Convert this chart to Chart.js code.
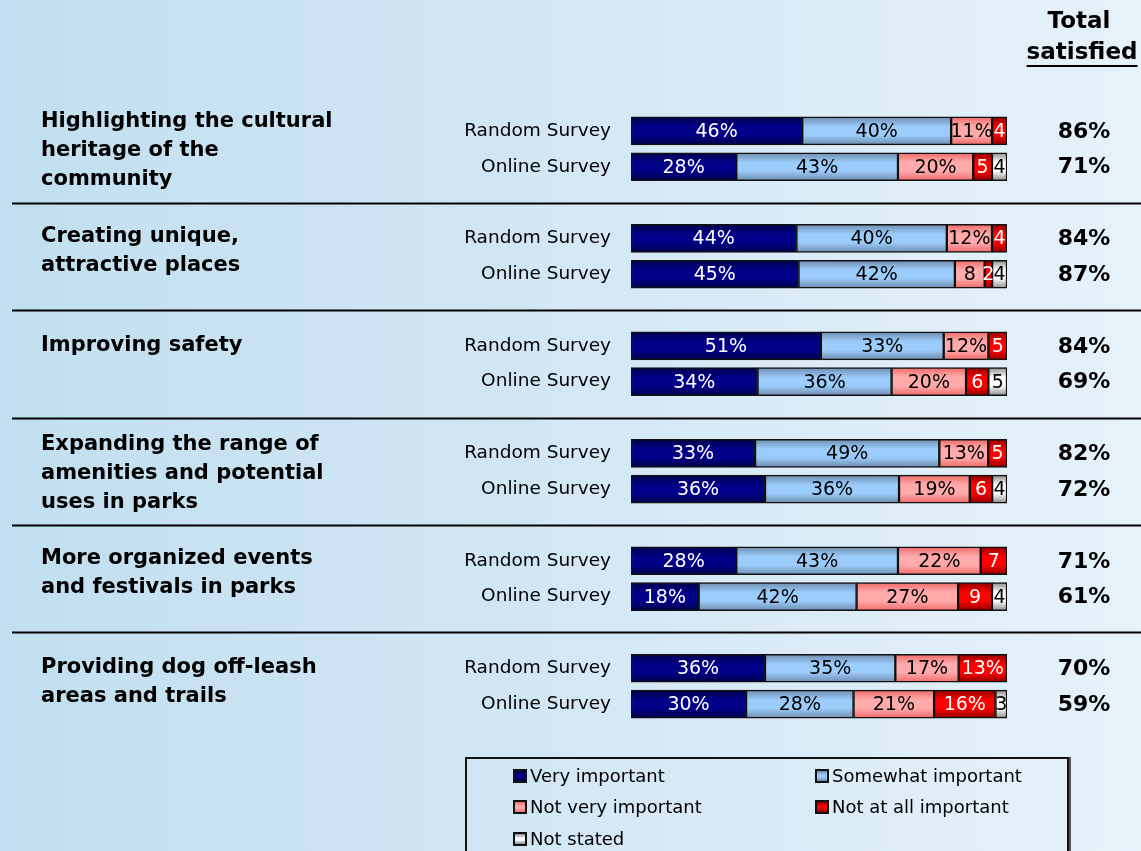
<!DOCTYPE html>
<html>
<head>
<meta charset="utf-8">
<script src="https://cdn.jsdelivr.net/npm/chart.js@4.4.1/dist/chart.umd.min.js"></script>
<style>
    body {
        margin: 0;
        width: 1141px;
        height: 851px;
        overflow: hidden;
        background: linear-gradient(90deg, #c1dff0 0%, #d3e7f5 50%, #e6f2fa 100%);
        font-family: "DejaVu Sans", Verdana, sans-serif;
    }
    #chartBox {
        position: absolute;
        left: 0;
        top: 0;
        width: 1141px;
        height: 851px;
    }
    #legendBox {
        position: absolute;
        left: 465px;
        top: 757px;
        width: 600px;
        height: 120px;
        border: 2px solid #111;
        box-shadow: 2px 0 0 #555;
    }
    .legend-item {
        position: absolute;
        display: flex;
        align-items: center;
        font-size: 18px;
        color: #000;
        white-space: nowrap;
    }
    .legend-color {
        width: 10px;
        height: 10px;
        border: 2px solid #111;
        margin-right: 3px;
    }
</style>
</head>
<body>
<div id="chartBox"><canvas id="barChart"></canvas></div>
<div id="legendBox"></div>

<script>
// topics, one entry per group (line breaks as in the picture)
const topics = [
    ['Highlighting the cultural', 'heritage of the', 'community'],
    ['Creating unique,', 'attractive places'],
    ['Improving safety'],
    ['Expanding the range of', 'amenities and potential', 'uses in parks'],
    ['More organized events', 'and festivals in parks'],
    ['Providing dog off-leash', 'areas and trails'],
];
const surveys = ['Random Survey', 'Online Survey'];

// values per row: Random, Online for each topic in order
const veryImportant     = [46, 28, 44, 45, 51, 34, 33, 36, 28, 18, 36, 30];
const somewhatImportant = [40, 43, 40, 42, 33, 36, 49, 36, 43, 42, 35, 28];
const notVeryImportant  = [11, 20, 12, 8, 12, 20, 13, 19, 22, 27, 17, 21];
const notAtAllImportant = [4, 5, 4, 2, 5, 6, 5, 6, 7, 9, 13, 16];
const notStated         = [0, 4, 0, 4, 0, 5, 0, 4, 0, 4, 0, 3];
const totalSatisfied    = [86, 71, 84, 87, 84, 69, 82, 72, 71, 61, 70, 59];

const seriesNames = ['Very important', 'Somewhat important', 'Not very important', 'Not at all important', 'Not stated'];
const seriesValues = [veryImportant, somewhatImportant, notVeryImportant, notAtAllImportant, notStated];

// colours: edge / middle of the shaded bars, and label text colour
const palette = [
    { edge: '#00004a', base: '#000088', text: '#ffffff' },
    { edge: '#6d8cae', base: '#9cccfb', text: '#000000' },
    { edge: '#f06a6a', base: '#ffabab', text: '#000000' },
    { edge: '#8f0000', base: '#ff0000', text: '#ffffff' },
    { edge: '#8c8c8c', base: '#ffffff', text: '#000000' },
];

// first-line offset of the bold topic text from the Random bar centre
const topicOffsets = [-9, -2, 0, -9, -2, -1];

// rows: Random, Online, (spacer) ... -> 17 slots on the category axis
const rowLabels = [];
const rowIndex = []; // slot -> data row or null
topics.forEach((t, g) => {
    surveys.forEach((s, k) => {
        rowLabels.push(s);
        rowIndex.push(g * 2 + k);
    });
    if (g < topics.length - 1) {
        rowLabels.push('');
        rowIndex.push(null);
    }
});

const rowSums = veryImportant.map((_, r) => seriesValues.reduce((sum, arr) => sum + arr[r], 0));

const shade = (c, k) => {
    const chart = c.chart;
    const yScale = chart.scales.y;
    if (!chart.chartArea || !yScale) return palette[k].base;
    const y = yScale.getPixelForValue(c.dataIndex);
    const g = chart.ctx.createLinearGradient(0, y - 14, 0, y + 14);
    g.addColorStop(0, palette[k].edge);
    g.addColorStop(0.35, palette[k].base);
    g.addColorStop(0.65, palette[k].base);
    g.addColorStop(1, palette[k].edge);
    return g;
};

const datasets = seriesValues.map((arr, k) => ({
    label: seriesNames[k],
    // bars are drawn as share of the row so each one fills the full width
    data: rowIndex.map((r) => (r === null || arr[r] === 0 ? null : (arr[r] / rowSums[r]) * 100)),
    raw: rowIndex.map((r) => (r === null ? null : arr[r])),
    backgroundColor: (c) => shade(c, k),
    borderColor: '#111',
    borderWidth: 1.5,
    borderSkipped: false,
    barThickness: 28,
}));

// labels inside bars, topic text, separators and totals
const extrasPlugin = {
    id: 'extras',
    afterDatasetsDraw(chart) {
        const ctx = chart.ctx;
        const yScale = chart.scales.y;
        ctx.save();

        // value labels
        ctx.font = '19px "DejaVu Sans"';
        ctx.textAlign = 'center';
        ctx.textBaseline = 'middle';
        chart.data.datasets.forEach((ds, k) => {
            const meta = chart.getDatasetMeta(k);
            meta.data.forEach((bar, i) => {
                const v = ds.raw[i];
                if (v === null || v === 0 || ds.data[i] === null) return;
                const text = v >= 10 ? v + '%' : String(v);
                ctx.fillStyle = palette[k].text;
                ctx.fillText(text, (bar.x + bar.base) / 2, bar.y + 1);
            });
        });

        // separators between groups
        ctx.strokeStyle = '#000';
        ctx.lineWidth = 2;
        rowIndex.forEach((r, slot) => {
            if (r !== null) return;
            const y = Math.round(yScale.getPixelForValue(slot)) + 0.5;
            ctx.beginPath();
            ctx.moveTo(12, y);
            ctx.lineTo(chart.width, y);
            ctx.stroke();
        });

        // topic text
        ctx.font = 'bold 21px "DejaVu Sans"';
        ctx.textAlign = 'left';
        ctx.fillStyle = '#000';
        topics.forEach((lines, g) => {
            const y0 = yScale.getPixelForValue(g * 3) + topicOffsets[g];
            lines.forEach((line, j) => {
                ctx.fillText(line, 41, y0 + j * 29);
            });
        });

        // total satisfied column
        ctx.textAlign = 'center';
        ctx.font = 'bold 23px "DejaVu Sans"';
        ctx.fillText('Total', 1079, 22);
        ctx.fillText('satisfied', 1082, 53);
        const w = ctx.measureText('satisfied').width;
        ctx.fillRect(1082 - w / 2, 65, w, 2);

        ctx.font = 'bold 22px "DejaVu Sans"';
        rowIndex.forEach((r, slot) => {
            if (r === null) return;
            ctx.fillText(totalSatisfied[r] + '%', 1084, yScale.getPixelForValue(slot) + 1);
        });

        ctx.restore();
    },
};

const renderBarChart = () => {
    const ctx = document.getElementById('barChart').getContext('2d');

    window.barChartInstance = new Chart(ctx, {
        type: 'bar',
        data: {
            labels: rowLabels,
            datasets: datasets,
        },
        options: {
            indexAxis: 'y',
            responsive: true,
            maintainAspectRatio: false,
            animation: false,
            layout: {
                padding: { left: 0, right: 134, top: 113, bottom: 129 },
            },
            plugins: {
                legend: { display: false },
                tooltip: { enabled: false },
            },
            scales: {
                x: {
                    stacked: true,
                    min: 0,
                    max: 100,
                    display: false,
                },
                y: {
                    stacked: true,
                    afterFit: (scale) => {
                        scale.width = 631; // bars start at the same place as the picture
                    },
                    ticks: {
                        color: '#000',
                        padding: 20,
                        autoSkip: false,
                        font: { size: 18.5, family: '"DejaVu Sans"' },
                    },
                    grid: { display: false, drawTicks: false },
                    border: { display: false },
                },
            },
        },
        plugins: [extrasPlugin],
    });
};

// legend below the chart, two columns
const renderBarLegend = () => {
    const legendContainer = document.getElementById('legendBox');
    legendContainer.innerHTML = '';
    const spots = [[46, 18], [348, 18], [46, 49], [348, 49], [46, 81]];

    seriesNames.forEach((name, k) => {
        const legendItem = document.createElement('div');
        legendItem.classList.add('legend-item');
        legendItem.style.left = spots[k][0] + 'px';
        legendItem.style.top = (spots[k][1] - 12) + 'px';

        const colorBox = document.createElement('div');
        colorBox.classList.add('legend-color');
        colorBox.style.background = `linear-gradient(${palette[k].edge}, ${palette[k].base} 40%, ${palette[k].base} 60%, ${palette[k].edge})`;

        const label = document.createElement('span');
        label.textContent = name;

        legendItem.appendChild(colorBox);
        legendItem.appendChild(label);
        legendContainer.appendChild(legendItem);
    });
};

renderBarChart();
renderBarLegend();
</script>
</body>
</html>
